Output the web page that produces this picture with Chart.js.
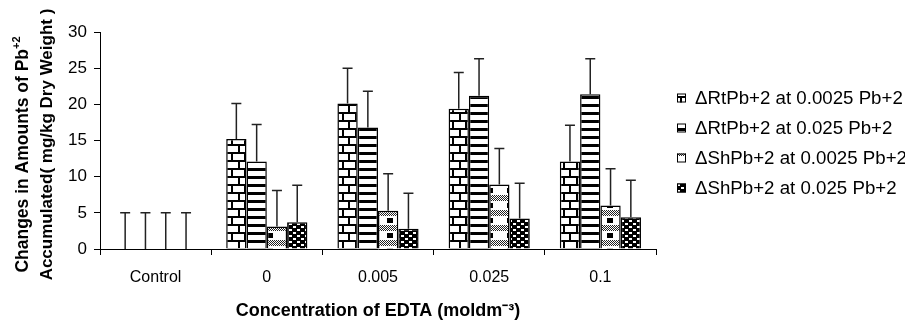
<!DOCTYPE html>
<html>
<head>
<meta charset="utf-8">
<script src="https://cdn.jsdelivr.net/npm/chart.js@4.4.1/dist/chart.umd.min.js"></script>
<style>
  html, body { margin: 0; padding: 0; background: #fff; }
  #wrap { position: relative; width: 905px; height: 322px; }
</style>
</head>
<body>
<div id="wrap"><canvas id="c" width="905" height="322"></canvas></div>
<script>
// ---- data ----
const categories = ['Control', '0', '0.005', '0.025', '0.1'];
const seriesNames = [
  '\u0394RtPb+2 at 0.0025 Pb+2',
  '\u0394RtPb+2 at 0.025 Pb+2',
  '\u0394ShPb+2 at 0.0025 Pb+2',
  '\u0394ShPb+2 at 0.025 Pb+2'
];
const rt0025 = [0, 15.2, 20.1, 19.4, 12.1];
const rt025  = [0, 12.1, 16.8, 21.2, 21.4];
const sh0025 = [0, 3.1, 5.3, 8.9, 6.0];
const sh025  = [0, 3.7, 2.8, 4.2, 4.4];
// upper error bar magnitudes
const rt0025Err = [5, 4.9, 4.9, 5.0, 5.0];
const rt025Err  = [5, 5.1, 5.0, 5.1, 4.9];
const sh0025Err = [5, 5.0, 5.1, 5.0, 5.1];
const sh025Err  = [5, 5.1, 4.9, 4.9, 5.1];
// y title: [main text, superscript]
const yTitleLines = [['Changes in Amounts of Pb', '+2'], ['Accumulated( mg/kg Dry Weight )', '']];
const xTitle = 'Concentration of EDTA (moldm\u207B\u00B3)';

// ---- fill patterns ----
function makePattern(w, h, draw) {
  const cv = document.createElement('canvas');
  cv.width = w; cv.height = h;
  const g = cv.getContext('2d');
  draw(g);
  return g.createPattern(cv, 'repeat');
}
const ctxMain = document.getElementById('c').getContext('2d');
const brick = makePattern(13, 16, g => {
  g.fillStyle = '#fff'; g.fillRect(0, 0, 13, 16);
  g.fillStyle = '#000';
  g.fillRect(0, 0, 13, 2); g.fillRect(0, 8, 13, 2);
  g.fillRect(4, 2, 2, 6); g.fillRect(10, 10, 2, 6);
});
const stripes = makePattern(8, 8, g => {
  g.fillStyle = '#fff'; g.fillRect(0, 0, 8, 8);
  g.fillStyle = '#000'; g.fillRect(0, 0, 8, 3);
});
const checker = makePattern(20, 15, g => {
  g.fillStyle = '#fff'; g.fillRect(0, 0, 20, 15);
  for (let y = 0; y < 6; y++) for (let x = 0; x < 20; x++) {
    if ((x + y) % 2 === 0) { g.fillStyle = '#222'; g.fillRect(x, y, 1, 1); }
  }
  g.fillStyle = '#000'; g.fillRect(7, 8, 6, 5);
});
const dots = makePattern(8, 6, g => {
  g.fillStyle = '#000'; g.fillRect(0, 0, 8, 6);
  g.fillStyle = '#fff'; g.fillRect(1, 1, 3, 2); g.fillRect(5, 4, 3, 2);
});
const fills = [brick, stripes, checker, dots];
const values = [rt0025, rt025, sh0025, sh025];
const errs = [rt0025Err, rt025Err, sh0025Err, sh025Err];

const FONT = "'Liberation Sans', Arial, sans-serif";

const errorBars = {
  id: 'errorBars',
  afterDatasetsDraw(chart) {
    const ctx = chart.ctx;
    const ys = chart.scales.y;
    ctx.save();
    ctx.strokeStyle = '#222';
    ctx.lineWidth = 1.5;
    chart.data.datasets.forEach((ds, di) => {
      const meta = chart.getDatasetMeta(di);
      meta.data.forEach((bar, i) => {
        const v = ds.data[i];
        const top = ys.getPixelForValue(v + errs[di][i]);
        const base = ys.getPixelForValue(v);
        ctx.beginPath();
        ctx.moveTo(bar.x, base);
        ctx.lineTo(bar.x, top);
        ctx.moveTo(bar.x - 5, top);
        ctx.lineTo(bar.x + 5, top);
        ctx.stroke();
      });
    });
    ctx.restore();
  }
};

const yTitlePlugin = {
  id: 'yTitle',
  afterDraw(chart) {
    const ctx = chart.ctx;
    const mid = (chart.chartArea.top + chart.chartArea.bottom) / 2;
    ctx.save();
    ctx.fillStyle = '#000';
    ctx.textAlign = 'left';
    ctx.textBaseline = 'middle';
    const pos = [[23, mid + 14], [47, mid + 4]];
    const sizes = [17.5, 17];
    yTitleLines.forEach((ln, i) => {
      const [main, sup] = ln;
      const f = 'bold ' + sizes[i] + 'px ' + FONT;
      ctx.font = f;
      const wMain = ctx.measureText(main).width;
      ctx.font = 'bold 11px ' + FONT;
      const wSup = sup ? ctx.measureText(sup).width : 0;
      const total = wMain + wSup;
      ctx.save();
      ctx.translate(pos[i][0], pos[i][1]);
      ctx.rotate(-Math.PI / 2);
      ctx.font = f;
      ctx.fillText(main, -total / 2, 0);
      if (sup) {
        ctx.font = 'bold 11px ' + FONT;
        ctx.fillText(sup, -total / 2 + wMain, -6);
      }
      ctx.restore();
    });
    ctx.restore();
  }
};

const legendPlugin = {
  id: 'sideLegend',
  afterDraw(chart) {
    const ctx = chart.ctx;
    ctx.save();
    ctx.font = '18.7px ' + FONT;
    ctx.textBaseline = 'middle';
    ctx.fillStyle = '#000';
    seriesNames.forEach((name, i) => {
      const cy = 98 + i * 30;
      ctx.fillStyle = fills[i];
      ctx.fillRect(677, cy - 4.5, 9, 9);
      ctx.strokeStyle = '#000';
      ctx.lineWidth = 1;
      ctx.strokeRect(677.5, cy - 4, 8, 8);
      ctx.fillStyle = '#000';
      ctx.fillText(name, 695, cy + 1);
    });
    ctx.restore();
  }
};

new Chart(ctxMain, {
  type: 'bar',
  data: {
    labels: categories,
    datasets: seriesNames.map((n, i) => ({
      label: n,
      data: values[i],
      backgroundColor: fills[i],
      borderColor: '#000',
      borderWidth: 1.5,
      borderSkipped: 'bottom',
      categoryPercentage: 0.73,
      barPercentage: 1.0
    }))
  },
  options: {
    responsive: false,
    animation: false,
    devicePixelRatio: 1,
    layout: { padding: { top: 32, right: 249, bottom: 0, left: 0 } },
    plugins: { legend: { display: false }, tooltip: { enabled: false } },
    scales: {
      x: {
        afterFit(s) { s.height = 73; },
        grid: { display: true, drawOnChartArea: false, drawTicks: true, tickLength: 6, color: '#000', offset: true },
        border: { display: true, color: '#000', width: 1 },
        ticks: { color: '#000', font: { family: FONT, size: 16 }, padding: 13, maxRotation: 0 },
        title: { display: true, text: xTitle, color: '#000', font: { family: FONT, size: 18, weight: 'bold', lineHeight: 1.2 }, padding: { top: 0, bottom: 0 } }
      },
      y: {
        min: 0, max: 30,
        afterFit(s) { s.width = 100; },
        grid: { display: true, drawOnChartArea: false, drawTicks: true, tickLength: 6, color: '#000' },
        border: { display: true, color: '#000', width: 1 },
        ticks: { stepSize: 5, color: '#000', font: { family: FONT, size: 17 }, padding: 7 },
        title: { display: false }
      }
    }
  },
  plugins: [errorBars, yTitlePlugin, legendPlugin]
});
</script>
</body>
</html>
